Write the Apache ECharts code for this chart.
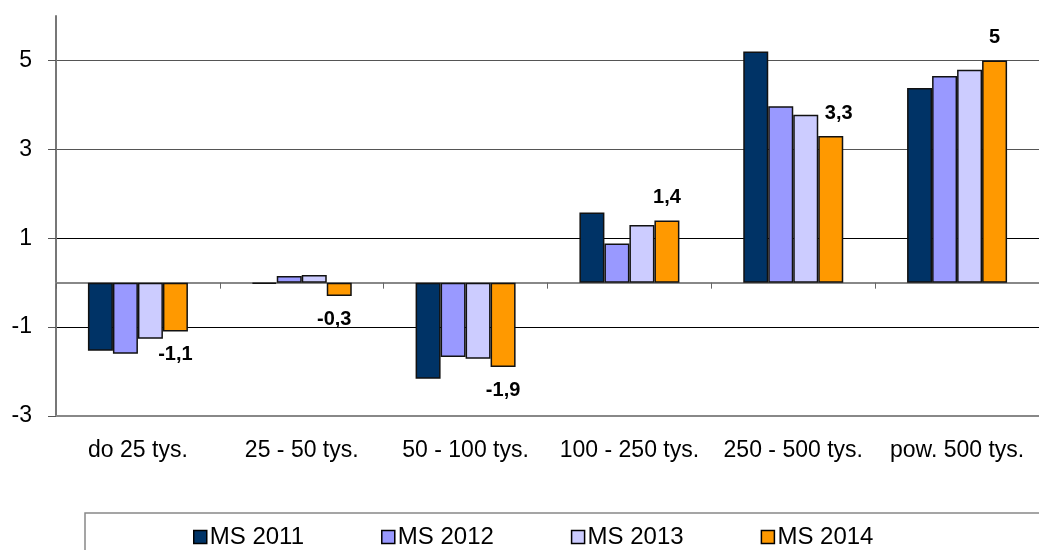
<!DOCTYPE html>
<html>
<head>
<meta charset="utf-8">
<script src="https://cdn.jsdelivr.net/npm/echarts@6/dist/echarts.min.js"></script>
<style>html,body{margin:0;padding:0;background:#fff;overflow:hidden}#c{width:1039px;height:550px}</style>
</head>
<body>
<div id="c"></div>
<script>
var categories = ['do 25 tys.', '25 - 50 tys.', '50 - 100 tys.', '100 - 250 tys.', '250 - 500 tys.', 'pow. 500 tys.'];
var seriesNames = ['MS 2011', 'MS 2012', 'MS 2013', 'MS 2014'];
var ms2011 = [-1.53, -0.03, -2.16, 1.58, 5.2, 4.38];
var ms2012 = [-1.6, 0.15, -1.67, 0.88, 3.97, 4.65];
var ms2013 = [-1.26, 0.17, -1.71, 1.3, 3.78, 4.79];
var ms2014 = [-1.1, -0.3, -1.9, 1.4, 3.3, 5];
var yTicks = [-3, -1, 1, 3, 5];
var colors = ['#003366', '#9999FF', '#CCCCFF', '#FF9900'];

var chart = echarts.init(document.getElementById('c'), null, {renderer: 'canvas'});
var allData = [ms2011, ms2012, ms2013, ms2014];
var labelShift = [0, -5, 0, 0, 8, 0];

function fmt(v) { return String(v).replace('.', ','); }

var series = allData.map(function (d, i) {
  return {
    name: seriesNames[i],
    type: 'bar',
    xAxisIndex: 0,
    barWidth: 25,
    barGap: 0,
    itemStyle: {color: colors[i], borderColor: '#111', borderWidth: 1.5},
    emphasis: {disabled: true},
    data: d.map(function (v, j) {
      var item = {value: v};
      if (i === 3) {
        item.label = {
          show: true,
          position: v >= 0 ? 'top' : 'bottom',
          distance: 13,
          offset: [labelShift[j], 0],
          formatter: function (p) { return fmt(p.value); },
          fontFamily: 'Liberation Sans, Arial, sans-serif',
          fontWeight: 'bold',
          fontSize: 20,
          color: '#000'
        };
      }
      return item;
    })
  };
});

chart.setOption({
  animation: false,
  backgroundColor: '#fff',
  grid: {left: 56, top: 16, width: 995, height: 400},
  graphic: [{
    type: 'polyline',
    silent: true,
    z: -1,
    shape: {points: [[85, 560], [85, 513], [1039, 513]]},
    style: {fill: 'none', stroke: '#888', lineWidth: 1.5}
  }],
  legend: {
    data: seriesNames,
    left: 193,
    top: 525,
    orient: 'horizontal',
    icon: 'rect',
    itemWidth: 13,
    itemHeight: 13,
    itemGap: 77,
    padding: 0,
    itemStyle: {borderColor: '#000', borderWidth: 1.5},
    textStyle: {fontFamily: 'Liberation Sans, Arial, sans-serif', fontSize: 24, color: '#000', padding: [0, 0, 0, -2]}
  },
  xAxis: [
    {
      type: 'category',
      data: categories,
      position: 'top',
      axisLine: {onZero: true, lineStyle: {color: '#888', width: 2}},
      axisTick: {show: true, inside: true, length: 6, lineStyle: {color: '#666', width: 1}},
      axisLabel: {show: false},
      splitLine: {show: false}
    },
    {
      type: 'category',
      data: categories,
      position: 'bottom',
      axisLine: {onZero: false, lineStyle: {color: '#888', width: 2}},
      axisTick: {show: false},
      axisLabel: {
        show: true,
        interval: 0,
        margin: 23,
        fontFamily: 'Liberation Sans, Arial, sans-serif',
        fontSize: 23,
        color: '#000'
      },
      splitLine: {show: false}
    }
  ],
  yAxis: {
    type: 'value',
    min: -3,
    max: 6,
    interval: 2,
    axisLine: {show: true, lineStyle: {color: '#777', width: 2}},
    axisTick: {show: true, length: 8, customValues: yTicks, lineStyle: {color: '#555', width: 1}},
    axisLabel: {
      customValues: yTicks,
      margin: 24,
      fontFamily: 'Liberation Sans, Arial, sans-serif',
      fontSize: 23,
      color: '#000',
      formatter: function (v) { return fmt(v); }
    },
    splitLine: {show: true, lineStyle: {color: ['#888', '#000', '#000', '#555', '#555', '#999'], width: 1.2}}
  },
  series: series
});
</script>
</body>
</html>
